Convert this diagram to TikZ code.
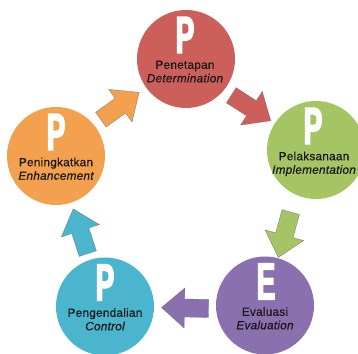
\documentclass[tikz,border=0pt]{standalone}
\usepackage{fontspec}
\setmainfont{Liberation Sans}
\newfontfamily\letterfont{Liberation Sans Bold}[FakeStretch=0.53,FakeBold=3]
\newfontfamily\labelfont{Liberation Sans}[FakeBold=0.5,LetterSpace=2]
\usetikzlibrary{calc}
\definecolor{cred}{HTML}{CD5F5B}
\definecolor{cgreen}{HTML}{A5C564}
\definecolor{cpurple}{HTML}{8A70AE}
\definecolor{ccyan}{HTML}{4BB5CD}
\definecolor{corange}{HTML}{F3A14F}
\definecolor{textgray}{HTML}{1A1A1A}
\tikzset{
  stage/.style={circle, minimum size=98pt, inner sep=0pt},
  letter/.style={text=white, font=\letterfont\fontsize{52}{52}\selectfont, inner sep=0pt},
  caption/.style={anchor=north, inner sep=0pt, align=center, text=textgray,
    font=\labelfont\fontsize{11.8}{13.5}\selectfont},
  blockstyle/.style={draw=black!55, line width=0.3pt}
}
\newcommand{\blockarrow}[4]{%
  \coordinate (m) at ($(#1)!0.5!(#2)+(#4)$);
  \coordinate (t) at ($(m)!-23.5pt!(#2)$);
  \coordinate (h) at ($(m)!0.5pt!(#2)$);
  \coordinate (p) at ($(m)!23.5pt!(#2)$);
  \draw[blockstyle, fill=#3] ($(t)!9pt!90:(#2)$) -- ($(h)!9pt!90:(#2)$) -- ($(h)!20pt!90:(#2)$) -- (p)
     -- ($(h)!20pt!-90:(#2)$) -- ($(h)!9pt!-90:(#2)$) -- ($(t)!9pt!-90:(#2)$) -- cycle;}
\begin{document}
\begin{tikzpicture}[x=1pt,y=1pt]
\useasboundingbox (0,0) rectangle (358,353);
\clip (0,0) rectangle (358,353);
\fill[white] (0,0) rectangle (358,353);
% circles
\node[stage, fill=cred] (red) at (186,294) {};
\node[stage, fill=cgreen] (green) at (316,203) {};
\node[stage, fill=cpurple] (purple) at (265,47.5) {};
\node[stage, fill=ccyan] (cyan) at (105,46.5) {};
\node[stage, fill=corange] (orange) at (56,197) {};
% letters
\node[letter] (redL) at ($(red)+(-1,24)$) {P};
\node[letter] (greenL) at ($(green)+(-3,24)$) {P};
\node[letter] (purpleL) at ($(purple)+(1,24)$) {E};
\node[letter] (cyanL) at ($(cyan)+(0,24)$) {P};
\node[letter] (orangeL) at ($(orange)+(0,24)$) {P};
% labels
\node[caption] (redT) at ($(red)+(-1,-1.5)$) {Penetapan\\\itshape Determination};
\node[caption] (greenT) at ($(green)+(-2,-1.5)$) {Pelaksanaan\\\itshape Implementation};
\node[caption] (purpleT) at ($(purple)+(0,-1.5)$) {Evaluasi\\\itshape Evaluation};
\node[caption] (cyanT) at ($(cyan)+(0,-1.5)$) {Pengendalian\\\itshape Control};
\node[caption] (orangeT) at ($(orange)+(0,-1.5)$) {Peningkatkan\\\itshape Enhancement};
% arrows
\blockarrow{red}{green}{cred}{0,-3.5}
\blockarrow{green}{purple}{cgreen}{-6,-7}
\blockarrow{purple}{cyan}{cpurple}{0,-2}
\blockarrow{cyan}{orange}{ccyan}{0,0}
\blockarrow{orange}{red}{corange}{-1,1.5}
\end{tikzpicture}
\end{document}
